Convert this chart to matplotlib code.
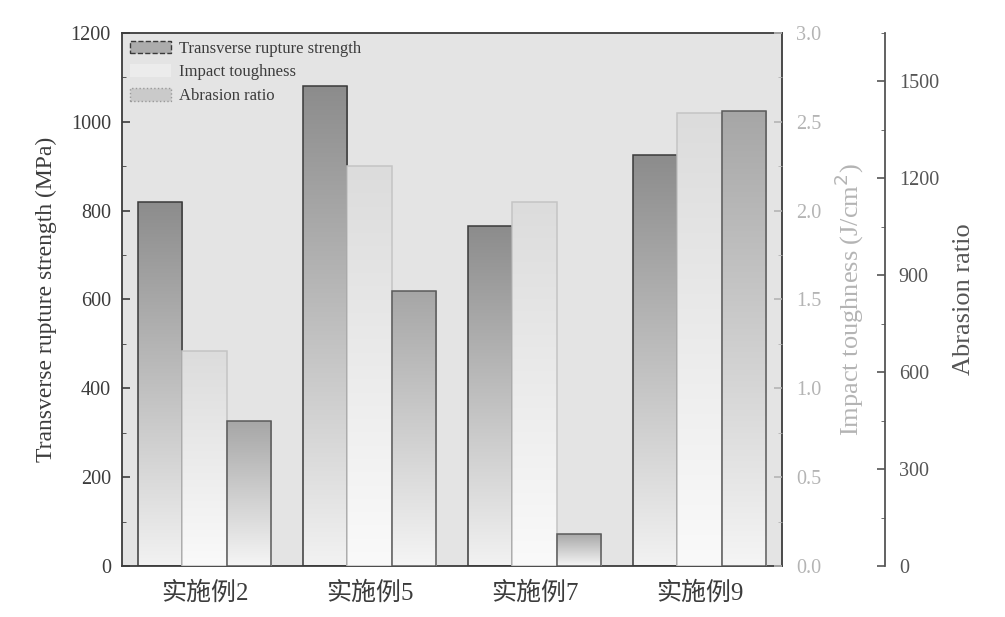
import numpy as np
import matplotlib
matplotlib.use('Agg')
import matplotlib.pyplot as plt
from matplotlib.patches import Patch
from matplotlib.colors import LinearSegmentedColormap
from matplotlib.ticker import MultipleLocator, FormatStrFormatter

plt.rcParams['font.family'] = ['Liberation Serif', 'Noto Sans CJK SC']

categories = ['实施例2', '实施例5', '实施例7', '实施例9']
rupture = [820, 1080, 765, 925]          # MPa
toughness = [1.21, 2.25, 2.05, 2.55]     # J/cm2
abrasion = [450, 850, 100, 1410]

x = np.arange(len(categories))
w = 0.27

fig = plt.figure(figsize=(10.05, 6.17), dpi=100)
ax = fig.add_axes([0.1214, 0.0827, 0.6567, 0.8638])
ax.set_facecolor('#e4e4e4')
ax2 = ax.twinx()
ax3 = ax.twinx()
ax3.spines['right'].set_position(('axes', 1.156))


def grad_bars(a, xs, vals, top, bottom, edge, z=2):
    bars = a.bar(xs, vals, w, facecolor='none', edgecolor=edge, linewidth=1.1, zorder=z + 1)
    cmap = LinearSegmentedColormap.from_list('g', [bottom, top])
    g = np.linspace(0, 1, 256).reshape(-1, 1)
    for b in bars:
        bx, by = b.get_x(), b.get_y()
        im = a.imshow(g, cmap=cmap, aspect='auto', origin='lower',
                      extent=[bx, bx + b.get_width(), by, by + b.get_height()], zorder=z)
        im.set_clip_path(b)
    return bars


grad_bars(ax, x - w, rupture, '#8c8c8c', '#f2f2f2', '#3a3a3a')
grad_bars(ax2, x, toughness, '#dcdcdc', '#fafafa', '#c4c4c4')
grad_bars(ax3, x + w, abrasion, '#a6a6a6', '#f5f5f5', '#5a5a5a')

for a in (ax, ax2, ax3):
    a.set_xlim(-0.5, 3.5)
ax.set_ylim(0, 1200)
ax2.set_ylim(0, 3.0)
ax3.set_ylim(0, 1650)

dark = '#3c3c3c'
light = '#b4b4b4'
mid = '#555555'

ax.set_xticks(x)
ax.set_xticklabels(categories, fontsize=18, color=dark)
ax.yaxis.set_major_locator(MultipleLocator(200))
ax.yaxis.set_minor_locator(MultipleLocator(100))
ax.tick_params(axis='y', direction='in', labelsize=14.5, colors=dark, length=6, width=1.2, pad=8)
ax.tick_params(axis='y', which='minor', direction='in', length=3, color=dark)
ax.tick_params(axis='x', direction='in', length=5, width=1.2, color=dark, pad=11)
ax.set_ylabel('Transverse rupture strength (MPa)', fontsize=17, color=dark, labelpad=10)
for s in ax.spines.values():
    s.set_color(dark)
    s.set_linewidth(1.3)

ax2.yaxis.set_major_locator(MultipleLocator(0.5))
ax2.yaxis.set_minor_locator(MultipleLocator(0.25))
ax2.yaxis.set_major_formatter(FormatStrFormatter('%.1f'))
ax2.tick_params(axis='y', direction='in', labelsize=14.5, colors=light, length=6, width=1.2, pad=10)
ax2.tick_params(axis='y', which='minor', direction='in', length=3, color=light)
ax2.set_ylabel('Impact toughness (J/cm$^2$)', fontsize=19, color=light, labelpad=8)
for s in ax2.spines.values():
    s.set_visible(False)

ax3.yaxis.set_major_locator(MultipleLocator(300))
ax3.yaxis.set_minor_locator(MultipleLocator(150))
ax3.tick_params(axis='y', direction='in', labelsize=14.5, colors=mid, length=6, width=1.2, pad=10)
ax3.tick_params(axis='y', which='minor', direction='in', length=3, color=mid)
ax3.set_ylabel('Abrasion ratio', fontsize=19, color=mid, labelpad=10)
for k, s in ax3.spines.items():
    s.set_visible(k == 'right')
ax3.spines['right'].set_color(mid)
ax3.spines['right'].set_linewidth(1.3)

handles = [
    Patch(facecolor='#acacac', edgecolor='#3a3a3a', linestyle='--', label='Transverse rupture strength'),
    Patch(facecolor='#ececec', edgecolor='none', label='Impact toughness'),
    Patch(facecolor='#cacaca', edgecolor='#9a9a9a', linestyle=':', label='Abrasion ratio'),
]
ax3.legend(handles=handles, loc='upper left', frameon=False, fontsize=12,
           handlelength=2.5, handleheight=0.8, labelspacing=0.45,
           borderaxespad=0.25, borderpad=0.2, handletextpad=0.45, labelcolor=dark)

fig.savefig('out.png', dpi=100)
